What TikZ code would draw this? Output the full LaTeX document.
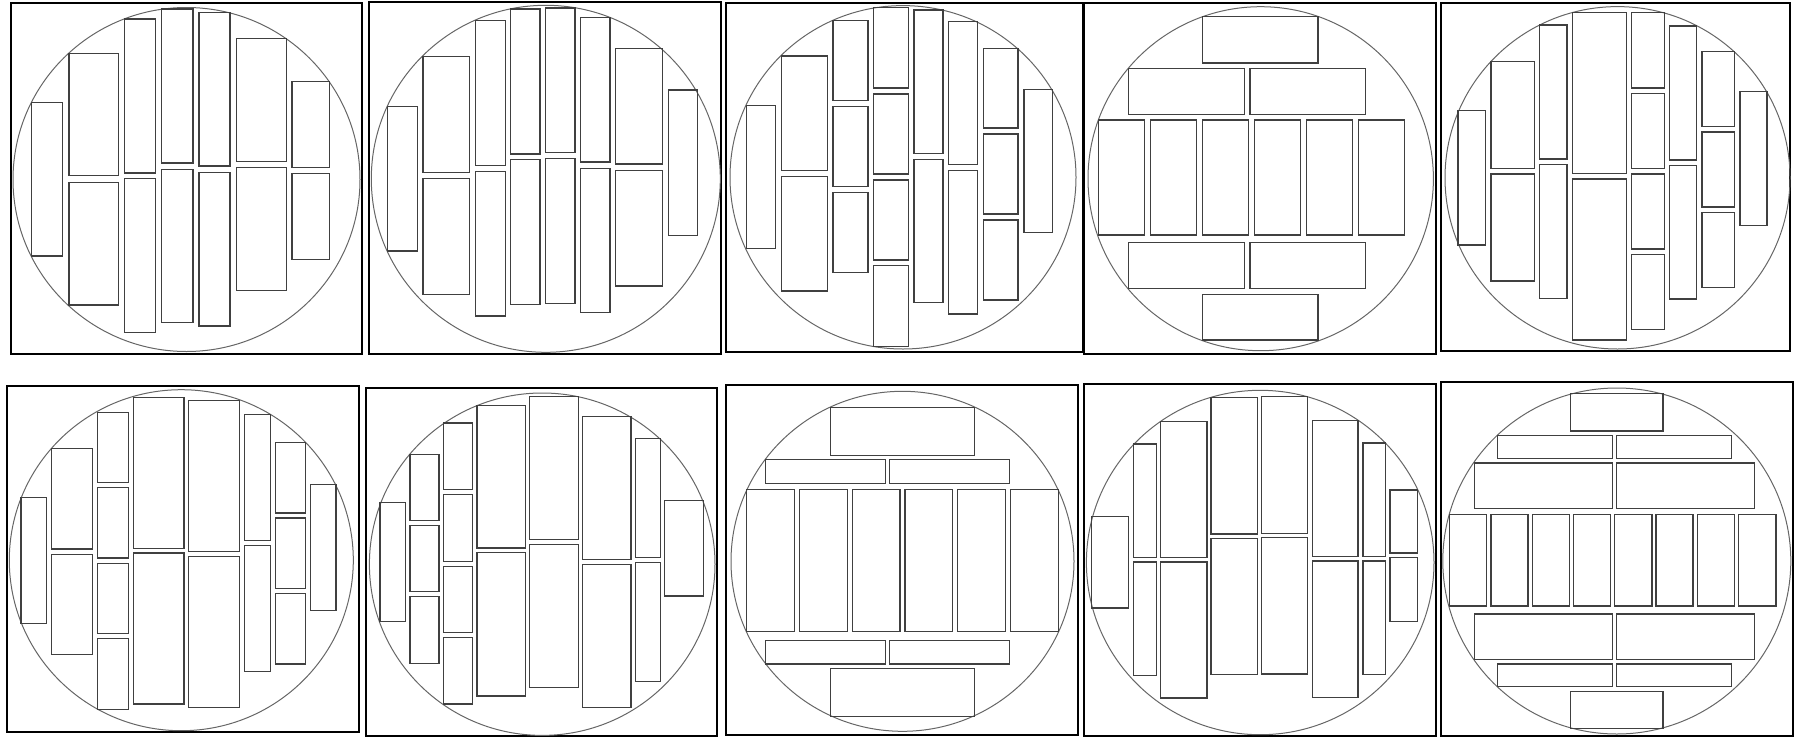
\documentclass[tikz,border=0pt]{standalone}
\tikzset{
  frame/.style={draw=black,line width=2pt},
  wafer/.style={draw=black!60,line width=1pt},
  chip/.style={draw=black!75,line width=1.3pt}
}
\newcommand\chiprect[4]{\draw[chip] (#1,#2) rectangle (#3,#4);}
\begin{document}
\begin{tikzpicture}[x=1pt,y=-1pt]
\useasboundingbox (0,0) rectangle (1794,737);
% ---------------- Panel 1
\draw[frame] (11,3) rectangle (362,354);
\draw[wafer] (186.5,179.5) ellipse [x radius=173.5pt, y radius=172pt];
\chiprect{31.7}{102.7}{62.7}{256}
\chiprect{69}{53.3}{118.7}{175.7}
\chiprect{69}{182.3}{118.7}{305}
\chiprect{124.3}{19}{155.7}{173}
\chiprect{124.3}{178.7}{155.7}{332.3}
\chiprect{161.7}{9}{193}{163}
\chiprect{161.7}{169.3}{193}{322.7}
\chiprect{199}{12.7}{230}{166}
\chiprect{199}{172.7}{230}{326}
\chiprect{236.3}{38.3}{286.3}{161.7}
\chiprect{236.3}{167.7}{286.3}{290.7}
\chiprect{292}{81.3}{329.7}{167.3}
\chiprect{292}{173.7}{329.7}{259.7}
% ---------------- Panel 2
\draw[frame] (368.7,1.7) rectangle (721,354.3);
\draw[wafer] (545.8,178.8) ellipse [x radius=174.5pt, y radius=173.5pt];
\chiprect{387.7}{106.7}{417.3}{251}
\chiprect{423}{56.7}{469.7}{172.3}
\chiprect{423}{178.3}{469.7}{294.3}
\chiprect{475.7}{20.7}{505.3}{165.3}
\chiprect{475.7}{171.3}{505.3}{316}
\chiprect{510.7}{9}{540}{154}
\chiprect{510.7}{159.7}{540}{304.7}
\chiprect{545.7}{8}{575}{152.7}
\chiprect{545.7}{158.7}{575}{303.3}
\chiprect{580.7}{17.3}{610}{162}
\chiprect{580.7}{168.3}{610}{312.7}
\chiprect{615.7}{48.7}{662.3}{164}
\chiprect{615.7}{170.3}{662.3}{286}
\chiprect{668.3}{90}{697.7}{235.3}
% ---------------- Panel 3
\draw[frame] (726,2.7) rectangle (1082.7,352.3);
\draw[wafer] (903,177.3) ellipse [x radius=173pt, y radius=171.7pt];
\chiprect{746.3}{105.3}{775.7}{248.3}
\chiprect{781.3}{56}{827.7}{170.3}
\chiprect{781.3}{176.7}{827.7}{291}
\chiprect{833}{20.7}{868}{100.3}
\chiprect{833}{106.3}{868}{186.7}
\chiprect{833}{192.3}{868}{272.7}
\chiprect{873.7}{7.3}{908.3}{88}
\chiprect{873.7}{94}{908.3}{174}
\chiprect{873.7}{180}{908.3}{260}
\chiprect{873.7}{265.7}{908.3}{346.7}
\chiprect{914}{10}{943}{153.7}
\chiprect{914}{159.3}{943}{302.7}
\chiprect{948.7}{21.7}{977.7}{164.7}
\chiprect{948.7}{170.7}{977.7}{314}
\chiprect{983.3}{48.3}{1018}{128}
\chiprect{983.3}{134}{1018}{214}
\chiprect{983.3}{220}{1018}{300}
\chiprect{1024}{89.3}{1052.7}{232.3}
% ---------------- Panel 4
\draw[frame] (1084,2.7) rectangle (1436,354);
\draw[wafer] (1260.7,178.7) ellipse [x radius=172.7pt, y radius=172pt];
\chiprect{1202.7}{16.7}{1318}{63}
\chiprect{1128.7}{68.7}{1244.3}{114.3}
\chiprect{1250}{68.7}{1365.3}{114.3}
\chiprect{1098.3}{120}{1144.7}{235}
\chiprect{1150.3}{120}{1196.7}{235}
\chiprect{1202.3}{120}{1248.7}{235}
\chiprect{1254.3}{120}{1300.7}{235}
\chiprect{1306.3}{120}{1352.7}{235}
\chiprect{1358.3}{120}{1404.7}{235}
\chiprect{1128.7}{242.7}{1244.3}{288.7}
\chiprect{1250}{242.7}{1365.3}{288.7}
\chiprect{1202.7}{294.3}{1318}{340}
% ---------------- Panel 5
\draw[frame] (1440.7,2.7) rectangle (1790,350.7);
\draw[wafer] (1617.5,177.8) ellipse [x radius=172.5pt, y radius=171.2pt];
\chiprect{1458}{110.7}{1485.7}{245}
\chiprect{1491}{61.3}{1534.7}{168.7}
\chiprect{1491}{174}{1534.7}{281}
\chiprect{1539.7}{25}{1567}{159}
\chiprect{1539.7}{164.3}{1567}{298.3}
\chiprect{1572.3}{12.7}{1626.7}{173.7}
\chiprect{1572.3}{179}{1626.7}{340}
\chiprect{1631.7}{12.7}{1664.3}{88}
\chiprect{1631.7}{93.7}{1664.3}{168.7}
\chiprect{1631.7}{174}{1664.3}{249}
\chiprect{1631.7}{254.3}{1664.3}{329.3}
\chiprect{1669.7}{26}{1696.7}{160}
\chiprect{1669.7}{165.3}{1696.7}{299}
\chiprect{1702}{51.7}{1734.7}{126.7}
\chiprect{1702}{132}{1734.7}{207}
\chiprect{1702}{212.3}{1734.7}{287.3}
\chiprect{1740}{91.3}{1767}{225.7}
% ---------------- Panel 6
\draw[frame] (6.7,386.3) rectangle (359,732);
\draw[wafer] (181.3,560.2) ellipse [x radius=172pt, y radius=170.5pt];
\chiprect{21}{497.7}{46.7}{623.7}
\chiprect{51.7}{448.7}{92.7}{549}
\chiprect{51.7}{554.7}{92.7}{654.7}
\chiprect{97.3}{412.3}{128.3}{482.7}
\chiprect{97.3}{487.7}{128.3}{558}
\chiprect{97.3}{563.3}{128.3}{633.7}
\chiprect{97.3}{638.7}{128.3}{709.3}
\chiprect{133.3}{397.3}{184}{548.3}
\chiprect{133.3}{553}{184}{704}
\chiprect{188.7}{400.3}{239.7}{551.3}
\chiprect{188.7}{556.3}{239.7}{707.3}
\chiprect{244.7}{414.3}{270.3}{540.3}
\chiprect{244.7}{545.3}{270.3}{671.3}
\chiprect{275.3}{442.3}{305.7}{513}
\chiprect{275.3}{518}{305.7}{588.7}
\chiprect{275.3}{593.3}{305.7}{664}
\chiprect{310.7}{484.7}{336}{610.3}
% ---------------- Panel 7
\draw[frame] (365.7,388) rectangle (717.3,736.3);
\draw[wafer] (542.2,564.2) ellipse [x radius=172.8pt, y radius=171.2pt];
\chiprect{380}{502.3}{405.7}{621.7}
\chiprect{410}{454.3}{439}{520.3}
\chiprect{410}{525.3}{439}{591.7}
\chiprect{410}{596.7}{439}{663.3}
\chiprect{443.3}{423}{472.3}{489.7}
\chiprect{443.3}{494.7}{472.3}{561.3}
\chiprect{443.3}{566.3}{472.3}{632.7}
\chiprect{443.3}{637.3}{472.3}{704}
\chiprect{477}{405.3}{525.3}{548}
\chiprect{477}{552.7}{525.3}{696}
\chiprect{529.7}{396.7}{578.3}{539.7}
\chiprect{529.7}{544.3}{578.3}{687.3}
\chiprect{582.7}{416.7}{631}{559.7}
\chiprect{582.7}{564.3}{631}{707.3}
\chiprect{635.7}{438.3}{660.3}{557.3}
\chiprect{635.7}{562.3}{660.3}{681.7}
\chiprect{664.3}{500.3}{703.3}{596}
% ---------------- Panel 8
\draw[frame] (725.7,384.7) rectangle (1078.3,735.3);
\draw[wafer] (902.5,561.3) ellipse [x radius=171.5pt, y radius=170pt];
\chiprect{830.3}{407.3}{974.7}{455.3}
\chiprect{765.3}{459.7}{885.3}{483.7}
\chiprect{889.3}{459.7}{1009.3}{483.7}
\chiprect{746.7}{489.7}{794.7}{631.3}
\chiprect{799.7}{489.7}{847.3}{631.3}
\chiprect{852.3}{489.7}{900}{631.3}
\chiprect{905}{489.7}{952.7}{631.3}
\chiprect{957.7}{489.7}{1005.3}{631.3}
\chiprect{1010.3}{489.7}{1058.3}{631.3}
\chiprect{765.3}{640.3}{885.3}{664}
\chiprect{889.3}{640.3}{1009.3}{664}
\chiprect{830.3}{668.7}{974.7}{716.3}
% ---------------- Panel 9
\draw[frame] (1084,384) rectangle (1436.3,736.3);
\draw[wafer] (1260.2,562.5) ellipse [x radius=173.8pt, y radius=172.2pt];
\chiprect{1091.3}{516.3}{1128.7}{608}
\chiprect{1133.3}{444}{1156.3}{557.3}
\chiprect{1133.3}{562}{1156.3}{675.7}
\chiprect{1160.7}{421.3}{1207}{557.3}
\chiprect{1160.7}{562}{1207}{698}
\chiprect{1211}{397.3}{1257.3}{534}
\chiprect{1211}{538.3}{1257.3}{674.7}
\chiprect{1261.7}{396.7}{1307.7}{533.3}
\chiprect{1261.7}{537.7}{1307.7}{674}
\chiprect{1312.3}{420.3}{1358}{556.7}
\chiprect{1312.3}{561}{1358}{697.3}
\chiprect{1363}{443}{1385.3}{556.7}
\chiprect{1363}{561}{1385.3}{674.3}
\chiprect{1390}{490}{1417.7}{553}
\chiprect{1390}{557.7}{1417.7}{621.3}
% ---------------- Panel 10
\draw[frame] (1440.7,382) rectangle (1792.7,736.3);
\draw[wafer] (1616.8,561) ellipse [x radius=174pt, y radius=173pt];
\chiprect{1570.7}{393.7}{1663}{431}
\chiprect{1497.3}{435.7}{1612.3}{458.3}
\chiprect{1616.7}{435.7}{1731.3}{458.3}
\chiprect{1474.3}{463}{1612.3}{508.3}
\chiprect{1616.7}{463}{1754.3}{508.3}
\chiprect{1449.3}{514.3}{1486.7}{606}
\chiprect{1491}{514.3}{1528}{606}
\chiprect{1532.3}{514.3}{1569.3}{606}
\chiprect{1573.7}{514.3}{1610.7}{606}
\chiprect{1614.7}{514.3}{1652}{606}
\chiprect{1656}{514.3}{1693}{606}
\chiprect{1697.7}{514.3}{1734.7}{606}
\chiprect{1738.7}{514.3}{1776}{606}
\chiprect{1474.3}{614}{1612.3}{659.7}
\chiprect{1616.7}{614}{1754.3}{659.7}
\chiprect{1497.3}{664}{1612.3}{686.7}
\chiprect{1616.7}{664}{1731.3}{686.7}
\chiprect{1570.7}{691.3}{1663}{728.7}
\end{tikzpicture}
\end{document}
